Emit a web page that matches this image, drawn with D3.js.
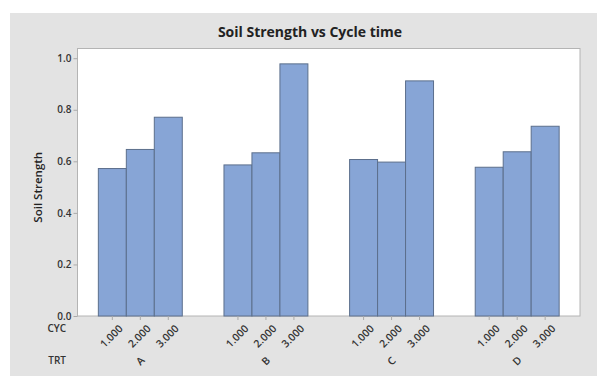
<!DOCTYPE html>
<html><head><meta charset="utf-8">
<script src="https://cdn.jsdelivr.net/npm/d3@7"></script>
<style>body{margin:0;background:#fff}svg{display:block}text{font-family:"Open Sans","Noto Sans",sans-serif}</style>
</head><body><svg id="c" width="597" height="376"></svg>
<script>
const groups = ["A","B","C","D"];
const cycles = ["1.000","2.000","3.000"];
const values = [
  [0.572, 0.646, 0.771],
  [0.586, 0.633, 0.978],
  [0.607, 0.597, 0.912],
  [0.577, 0.637, 0.736]
];
const yTicks = [0.0, 0.2, 0.4, 0.6, 0.8, 1.0];

const svg = d3.select("#c");
svg.append("rect").attr("x",10).attr("y",13).attr("width",587).attr("height",363).attr("fill","#e3e3e3");

const L=77.5, R=580, T=48.5, B=316;
svg.append("rect").attr("x",L).attr("y",T).attr("width",R-L).attr("height",B-T).attr("fill","#fff").attr("stroke","#b4b4b4").attr("stroke-width",1);

const y = d3.scaleLinear().domain([0,1.0376]).range([B,T]);
const x0 = d3.scaleBand().domain(groups).range([L,R]).paddingInner(0).paddingOuter(0);
const x1 = d3.scaleBand().domain(cycles).range([0,x0.bandwidth()]).paddingInner(0).paddingOuter(0.745);

const data = [];
groups.forEach((g,i)=>cycles.forEach((c,j)=>data.push({g,c,v:values[i][j]})));

svg.append("g").selectAll("rect").data(data).join("rect")
  .attr("x",d=>x0(d.g)+x1(d.c)).attr("width",x1.bandwidth())
  .attr("y",d=>y(d.v)).attr("height",d=>B-y(d.v))
  .attr("fill","#87a5d6").attr("stroke","#5c6f8c").attr("stroke-width",1);

// y axis
const ya = svg.append("g").attr("transform",`translate(${L},0)`)
  .call(d3.axisLeft(y).tickValues(yTicks).tickFormat(d3.format(".1f")).tickSize(4).tickSizeOuter(0));
ya.select(".domain").remove();
ya.selectAll("line").attr("stroke","#aaa");
ya.selectAll("text").attr("fill","#333").attr("font-size",10).attr("font-weight",600).attr("x",-6);

// x axis ticks
const xa = svg.append("g");
data.forEach(d=>{
  const cx = x0(d.g)+x1(d.c)+x1.bandwidth()/2;
  xa.append("line").attr("x1",cx).attr("x2",cx).attr("y1",B).attr("y2",B+4).attr("stroke","#aaa");
  xa.append("text").attr("transform",`translate(${cx+6},${B+8}) rotate(-45)`)
    .attr("text-anchor","end").attr("dy","0.7em").attr("font-size",10.5).attr("font-weight",600).attr("fill","#333").text(d.c);
});
groups.forEach(g=>{
  const cx = x0(g)+x0.bandwidth()/2;
  xa.append("text").attr("transform",`translate(${cx},${361}) rotate(-45)`)
    .attr("text-anchor","middle").attr("dy","0.35em").attr("font-size",10.5).attr("font-weight",600).attr("fill","#333").text(g);
});
svg.append("text").attr("x",66).attr("y",332).attr("text-anchor","end").attr("font-size",10).attr("font-weight",600).attr("fill","#333").text("CYC");
svg.append("text").attr("x",66).attr("y",364).attr("text-anchor","end").attr("font-size",10).attr("font-weight",600).attr("fill","#333").text("TRT");

svg.append("text").attr("transform",`translate(42,${(T+B)/2+5}) rotate(-90)`).attr("text-anchor","middle")
  .attr("font-size",11.5).attr("font-weight",600).attr("fill","#222").text("Soil Strength");
svg.append("text").attr("x",310).attr("y",37).attr("text-anchor","middle").attr("font-size",14).attr("font-weight",700).attr("fill","#222").text("Soil Strength vs Cycle time");
</script></body></html>
